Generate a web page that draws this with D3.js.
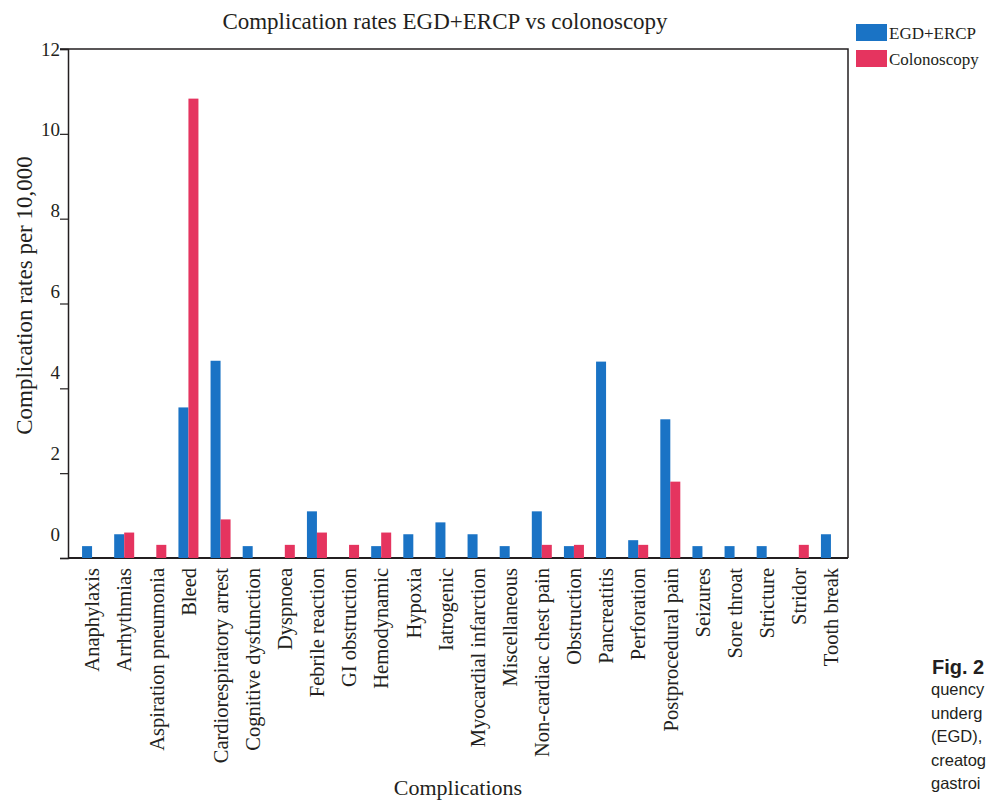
<!DOCTYPE html>
<html lang="en">
<head>
   <meta charset="UTF-8">
   <title>Complication rates EGD+ERCP vs colonoscopy</title>
   <style>
      html, body { margin: 0; padding: 0; background: #fff; overflow: hidden; }
      text { font-family: "Liberation Serif", "DejaVu Serif", serif; fill: #231f20; }
      .axis line, .axis path { stroke: #231f20; }
      .caption text { font-family: "Liberation Sans", Arial, sans-serif; fill: #231f20; }
   </style>
   <script src="https://cdn.jsdelivr.net/npm/d3@7"></script>
</head>
<body>
   <div class="chart"></div>
   <script>
      // data
      const categories = ['Anaphylaxis', 'Arrhythmias', 'Aspiration pneumonia', 'Bleed',
         'Cardiorespiratory arrest', 'Cognitive dysfunction', 'Dyspnoea', 'Febrile reaction',
         'GI obstruction', 'Hemodynamic', 'Hypoxia', 'Iatrogenic', 'Myocardial infarction',
         'Miscellaneous', 'Non-cardiac chest pain', 'Obstruction', 'Pancreatitis', 'Perforation',
         'Postprocedural pain', 'Seizures', 'Sore throat', 'Stricture', 'Stridor', 'Tooth break']
      const series = ['EGD+ERCP', 'Colonoscopy']
      const egdErcp = [0.28, 0.56, 0, 3.55, 4.65, 0.28, 0, 1.1, 0, 0.28, 0.56, 0.84,
         0.56, 0.28, 1.1, 0.28, 4.63, 0.42, 3.27, 0.28, 0.28, 0.28, 0, 0.56]
      const colonoscopy = [0, 0.6, 0.31, 10.83, 0.91, 0, 0.31, 0.6, 0.31, 0.6, 0, 0,
         0, 0, 0.31, 0.31, 0, 0.31, 1.8, 0, 0, 0, 0.31, 0]
      const yTicks = [0, 2, 4, 6, 8, 10, 12]
      const captionLines = ['quency', 'underg', '(EGD),', 'creatog', 'gastroi']

      const colors = { 'EGD+ERCP': '#1a73c5', 'Colonoscopy': '#e5345f' }

      const width = 986, height = 803
      const svg = d3.select('.chart').append('svg')
         .attr('width', width)
         .attr('height', height)

      const padding = { top: 49, right: 138, bottom: 245, left: 68 }
      const WIDTH = width - padding.left - padding.right
      const HEIGHT = height - padding.top - padding.bottom

      const chart = svg.append('g')
         .attr('transform', `translate(${padding.left}, ${padding.top})`)

      const rows = categories.map((c, i) => ({
         category: c,
         values: [
            { key: 'EGD+ERCP', value: egdErcp[i] },
            { key: 'Colonoscopy', value: colonoscopy[i] }
         ]
      }))

      // scales
      const x0 = d3.scaleBand()
         .domain(categories)
         .range([8, WIDTH - 1])

      const x1 = d3.scaleBand()
         .domain(series)
         .range([0, x0.bandwidth()])
         .paddingOuter(0.606)

      const yScale = d3.scaleLinear()
         .domain([0, 12])
         .range([HEIGHT, 0])

      // frame (top and right edges)
      chart.append('path')
         .attr('d', `M-8,0H${WIDTH}V${HEIGHT}`)
         .attr('fill', 'none')
         .attr('stroke', '#231f20')
         .attr('stroke-width', 1.5)

      // y axis
      const yAxisGroup = chart.append('g')
         .attr('class', 'axis')
         .call(d3.axisLeft(yScale).tickValues(yTicks).tickSize(8).tickFormat(''))
      yAxisGroup.select('.domain').attr('stroke-width', 1.5)
      yAxisGroup.selectAll('.tick line').attr('stroke-width', 1.2)

      // tick labels sit slightly above their ticks in the original
      chart.append('g').selectAll('text')
         .data(yTicks)
         .enter()
         .append('text')
         .attr('x', -8)
         .attr('y', d => yScale(d) - (12 - d) * 2)
         .attr('dy', '0.35em')
         .attr('text-anchor', 'end')
         .attr('font-size', 19)
         .text(d => d)

      // x axis
      const xAxisGroup = chart.append('g')
         .attr('class', 'axis')
         .attr('transform', `translate(0, ${HEIGHT})`)
         .call(d3.axisBottom(x0).tickSize(0).tickPadding(0))
      xAxisGroup.select('.domain')
         .attr('d', `M0,0H${WIDTH}`)
         .attr('stroke-width', 2)
      xAxisGroup.selectAll('.tick text')
         .attr('transform', 'rotate(-90)')
         .attr('x', -10)
         .attr('y', 0)
         .attr('dy', '0.35em')
         .attr('text-anchor', 'end')
         .attr('font-size', 20.5)
         .attr('font-family', '"Liberation Serif", serif')
         .attr('fill', '#231f20')

      // bars
      chart.append('g').selectAll('g')
         .data(rows)
         .enter()
         .append('g')
         .attr('transform', d => `translate(${x0(d.category)}, 0)`)
         .selectAll('rect')
         .data(d => d.values.filter(v => v.value > 0))
         .enter()
         .append('rect')
         .attr('x', d => x1(d.key))
         .attr('y', d => yScale(d.value))
         .attr('width', x1.bandwidth())
         .attr('height', d => HEIGHT - yScale(d.value))
         .attr('fill', d => colors[d.key])

      // titles
      svg.append('text')
         .attr('x', 445)
         .attr('y', 29)
         .attr('text-anchor', 'middle')
         .attr('font-size', 23)
         .text('Complication rates EGD+ERCP vs colonoscopy')

      svg.append('text')
         .attr('transform', `translate(32, ${padding.top + HEIGHT / 2 - 8}) rotate(-90)`)
         .attr('text-anchor', 'middle')
         .attr('font-size', 23)
         .text('Complication rates per 10,000')

      svg.append('text')
         .attr('x', 458)
         .attr('y', 795)
         .attr('text-anchor', 'middle')
         .attr('font-size', 22)
         .text('Complications')

      // legend
      const legend = svg.append('g')
         .attr('transform', 'translate(856, 24)')
      const item = legend.selectAll('g')
         .data(series)
         .enter()
         .append('g')
         .attr('transform', (d, i) => `translate(0, ${i * 26})`)
      item.append('rect')
         .attr('width', 31)
         .attr('height', 17)
         .attr('fill', d => colors[d])
      item.append('text')
         .attr('x', 33)
         .attr('y', 9)
         .attr('dy', '0.35em')
         .attr('font-size', 17)
         .text(d => d)

      // cut-off figure caption on the right
      const caption = svg.append('g').attr('class', 'caption')
      caption.append('text')
         .attr('x', 932)
         .attr('y', 674)
         .attr('font-size', 20)
         .attr('font-weight', 'bold')
         .text('Fig. 2')
      caption.selectAll('.line')
         .data(captionLines)
         .enter()
         .append('text')
         .attr('class', 'line')
         .attr('x', 931)
         .attr('y', (d, i) => 695 + i * 23.5)
         .attr('font-size', 16.5)
         .text(d => d)
   </script>
</body>
</html>
